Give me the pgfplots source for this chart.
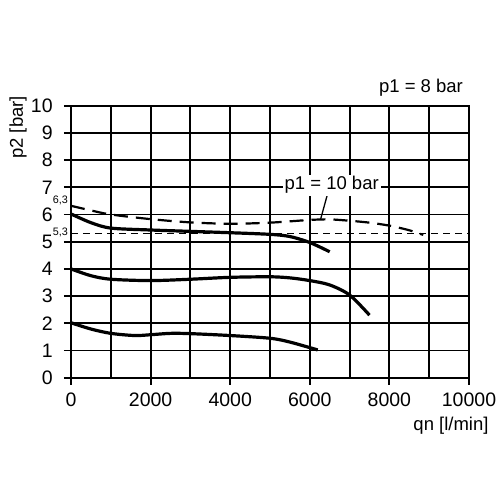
\documentclass[border=0pt]{standalone}
\usepackage{fontspec}
\setmainfont{Liberation Sans}
\usepackage{pgfplots}
\pgfplotsset{compat=1.18}

\begin{document}
\begin{tikzpicture}
\fontsize{18.5bp}{22bp}\selectfont
\useasboundingbox (-71bp,-122.3bp) rectangle (429bp,377.7bp);
\begin{axis}[
    at={(0,0)}, anchor=south west,
    scale only axis,
    width=398bp, height=272bp,
    xmin=0, xmax=10000,
    ymin=0, ymax=10,
    xtick={0,2000,...,10000},
    minor xtick={1000,3000,...,9000},
    ytick={0,1,...,10},
    scaled x ticks=false,
    grid=both,
    major grid style={black, line width=1.9bp},
    minor grid style={black, line width=1.9bp},
    axis line style={black, line width=1.9bp},
    tick style={black, line width=1.9bp},
    major tick length=7bp,
    minor tick length=0pt,
    tick align=outside,
    xtick pos=bottom, ytick pos=left,
    /pgf/number format/assume math mode=true,
    /pgf/number format/1000 sep={},
    tick label style={font=\fontsize{19.5bp}{22bp}\selectfont},
    y tick label style={xshift=-5bp},
    x tick label style={yshift=-2bp},
    clip=false,
]

% p2 = 6 bar, p1 = 8 bar
\addplot[black, line width=3.2bp, smooth] coordinates {
    (0,6.02) (500,5.7) (1000,5.5) (2000,5.43) (3000,5.38) (4000,5.33)
    (5000,5.27) (5500,5.19) (6000,4.97) (6500,4.63)};

% p1 = 10 bar
\addplot[black, line width=2.2bp, dash pattern=on 14bp off 8bp, smooth] coordinates {
    (0,6.32) (500,6.15) (1000,6.0) (2000,5.83) (3000,5.71) (4000,5.66)
    (5000,5.7) (6000,5.8) (6500,5.82) (7000,5.77) (7500,5.7) (8000,5.59)
    (8500,5.42) (8850,5.25)};

% p2 = 4 bar
\addplot[black, line width=3.2bp, smooth] coordinates {
    (0,4.0) (500,3.75) (1000,3.62) (2000,3.57) (3000,3.62) (4000,3.69)
    (5000,3.71) (5500,3.67) (6000,3.57) (6500,3.41) (7000,3.04) (7500,2.3)};

% p2 = 2 bar
\addplot[black, line width=3.2bp, smooth] coordinates {
    (0,2.02) (500,1.79) (1000,1.63) (1600,1.55) (2000,1.58) (2500,1.63)
    (3000,1.62) (4000,1.55) (5000,1.45) (5500,1.31) (6200,1.02)};

% 5,3 reference line
\addplot[black, line width=1.3bp, dash pattern=on 7bp off 5bp] coordinates {(0,5.3) (10000,5.3)};

\node[anchor=base east, inner sep=0pt, font=\fontsize{10.8bp}{12bp}\selectfont]
    at (axis cs:0,6.3) [xshift=-3bp, yshift=2.5bp] {6,3};
\node[anchor=east, inner sep=0pt, font=\fontsize{10.8bp}{12bp}\selectfont]
    at (axis cs:0,5.3) [xshift=-3bp, yshift=1bp] {5,3};

\draw[black, line width=1.3bp] (axis cs:6432,6.68) -- (axis cs:6274,5.84);
\node[fill=white, inner sep=2bp] at (axis cs:6550,7.08) {p1 = 10 bar};

\node[anchor=base] at (axis cs:8794,10.48) {p1 = 8 bar};
\node[rotate=90] at (axis cs:-1332,9.2) {p2 [bar]};
\node at (axis cs:9548,-1.78) {qn [l/min]};
\end{axis}
\end{tikzpicture}
\end{document}
